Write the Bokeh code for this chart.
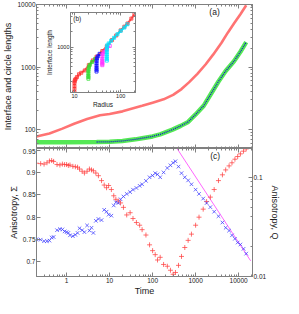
from bokeh.plotting import figure
from bokeh.layouts import column
from bokeh.models import LogAxis, Range1d, FixedTicker, PrintfTickFormatter, Label, LogScale
from bokeh.embed import file_html
from bokeh.resources import INLINE

# ---------------- data ----------------
# (a) interface length and circle length vs time
iface_t = [0.2, 0.4, 0.8, 1.5, 3, 6, 10, 20, 57, 100, 180, 300, 470, 700, 1100, 1700, 2550, 4000, 5600, 8000, 11000, 15000]
iface_len = [78, 87, 104, 124, 148, 170, 178, 196, 240, 270, 305, 360, 445, 570, 780, 1100, 1580, 2450, 3550, 5100, 7000, 9700]
circ_t = [0.2, 1, 5, 10, 20, 40, 57, 100, 150, 290, 450, 670, 1000, 1550, 2300, 3400, 5000, 7800, 11000, 15000]
circ_len = [63, 63, 63.5, 64, 66, 70, 73, 78, 84, 100, 115, 133, 175, 242, 378, 588, 865, 1240, 1760, 2500]
circ_dot_t = [5, 10, 20, 40, 57, 100, 150, 290, 450, 670, 1000, 1550, 2300, 3400, 5000, 7800, 11000, 15000]
circ_dot_len = [63.5, 64, 66, 70, 73, 78, 84, 100, 115, 133, 175, 242, 378, 588, 865, 1240, 1760, 2500]

# (b) interface length vs radius
r_red = [10, 10, 10, 10, 10.05, 10.2, 10.6, 11.3, 12.5, 14, 16.7, 20.4, 25, 30, 40, 50, 65, 80, 100, 120, 140, 170, 198]
l_red = [125, 145, 165, 190, 205, 218, 230, 250, 285, 305, 340, 433, 540, 640, 830, 1030, 1380, 1700, 2150, 2550, 2950, 3700, 4500]
r_green = [20, 20, 20, 20, 20, 20.2, 20.6, 21.5, 24, 28]
l_green = [232, 250, 270, 300, 330, 360, 400, 440, 500, 580]
r_blue = [30, 30, 30, 30, 30, 30.2, 30.6, 32, 35]
l_blue = [323, 350, 380, 420, 470, 530, 590, 650, 730]
r_magenta = [40, 40, 40, 40, 40, 40.3, 41, 44, 50, 58]
l_magenta = [433, 460, 490, 530, 580, 650, 730, 800, 900, 1050]
r_cyan = [50, 50, 50, 50, 50, 50, 50.3, 51, 55, 62, 72, 85, 100, 120, 140]
l_cyan = [534, 580, 640, 710, 790, 880, 980, 1080, 1180, 1330, 1530, 1800, 2100, 2450, 2850]

# (c) anisotropies vs time
aniso_t = [0.2, 0.25, 0.3, 0.35, 0.4, 0.45, 0.5, 0.6, 0.7, 0.8, 0.9, 1, 1.1, 1.2, 1.4, 1.6, 1.8, 2, 2.3, 2.6,
           3, 3.4, 3.8, 4.2, 4.8, 5.5, 6.5, 7.5, 8.5, 9.5, 11, 12.5, 14, 16, 18, 21, 25, 30, 35, 42,
           50, 57, 70, 85, 100, 115, 130, 150, 180, 220, 260, 300, 340, 400, 470, 560, 670, 800, 1000, 1200,
           1500, 1800, 2200, 2700, 3400, 4200, 5000, 6000, 7000, 8200, 9500, 11000, 13000, 15000]
sigma = [0.921, 0.920, 0.919, 0.922, 0.926, 0.927, 0.925, 0.918, 0.917, 0.919, 0.918, 0.918, 0.916, 0.917, 0.914, 0.913, 0.912, 0.908, 0.903, 0.899,
         0.903, 0.908, 0.906, 0.904, 0.899, 0.893, 0.882, 0.872, 0.866, 0.871, 0.862, 0.848, 0.840, 0.836, 0.832, 0.822, 0.805, 0.810, 0.797, 0.788,
         0.782, 0.772, 0.760, 0.738, 0.725, 0.716, 0.704, 0.710, 0.694, 0.690, 0.681, 0.672, 0.676, 0.692, 0.712, 0.732, 0.748, 0.762, 0.782, 0.800,
         0.818, 0.835, 0.845, 0.862, 0.882, 0.895, 0.906, 0.915, 0.922, 0.930, 0.936, 0.942, 0.948, 0.953]
q_aniso = [0.0237, 0.0235, 0.0227, 0.0227, 0.0230, 0.0247, 0.0250, 0.0293, 0.0300, 0.0298, 0.0285, 0.0280, 0.0275, 0.0260, 0.0255, 0.0263, 0.0275, 0.0306, 0.0293, 0.0280,
           0.0327, 0.0290, 0.0310, 0.0275, 0.0364, 0.0380, 0.0370, 0.0470, 0.0450, 0.0420, 0.0410, 0.0520, 0.0560, 0.0550, 0.0600, 0.0640, 0.0680, 0.0710, 0.0750, 0.0780,
           0.0820, 0.0850, 0.0920, 0.1000, 0.1040, 0.1100, 0.1070, 0.1000, 0.1120, 0.1240, 0.1320, 0.1400, 0.1450, 0.1280, 0.1100, 0.1000, 0.0930, 0.0850, 0.0750, 0.0680,
           0.0610, 0.0550, 0.0500, 0.0450, 0.0405, 0.0350, 0.0310, 0.0290, 0.0260, 0.0240, 0.0220, 0.0210, 0.0190, 0.0170]
fit_t = [370, 19000]
fit_q = [0.195, 0.0144]

# tick values
time_major = [1, 10, 100, 1000, 10000]
time_minor = [m * 10.0 ** e for e in range(-1, 5) for m in range(2, 10)]
len_major = [100, 1000, 10000]
len_minor = [m * 10.0 ** e for e in range(1, 4) for m in range(2, 10)]
sigma_ticks = [0.7, 0.75, 0.8, 0.85, 0.9, 0.95]
q_major = [0.01, 0.1]
q_minor = [m * 10.0 ** e for e in range(-2, 0) for m in range(2, 10)]
rad_major = [10, 100]
rad_minor = [m * 10.0 ** e for e in range(0, 3) for m in range(2, 10)]

FONT = "Liberation Sans"
AX = "#808080"
TXT = "#222222"


def style(ax, labels=True, tick=4, minor=2, lsize="6.5px", asize="9px"):
    ax.major_tick_in = tick
    ax.major_tick_out = 0
    ax.minor_tick_in = minor
    ax.minor_tick_out = 0
    ax.axis_line_color = AX
    ax.major_tick_line_color = AX
    ax.minor_tick_line_color = AX
    if labels:
        ax.major_label_text_font = FONT
        ax.major_label_text_font_size = lsize
        ax.major_label_text_color = TXT
        ax.major_label_standoff = 1
        ax.axis_label_text_font = FONT
        ax.axis_label_text_font_size = asize
        ax.axis_label_text_font_style = "normal"
        ax.axis_label_text_color = TXT
        ax.axis_label_standoff = 1
    else:
        ax.major_label_text_font_size = "1px"
        ax.major_label_text_alpha = 0
        ax.major_label_standoff = 0


fmt = PrintfTickFormatter(format="%g")
x_rng = Range1d(0.2, 21000)

# ---------------- top panel (a) ----------------
top = figure(width=283, height=148, x_axis_type="log", y_axis_type="log",
             x_range=x_rng, y_range=Range1d(50, 10000),
             min_border_left=32, min_border_right=28, min_border_top=4, min_border_bottom=0,
             output_backend="svg", toolbar_location=None)
top.grid.visible = False
top.outline_line_color = AX
top.xaxis.ticker = FixedTicker(ticks=time_major, minor_ticks=time_minor)
style(top.xaxis[0], labels=False)
top.yaxis.ticker = FixedTicker(ticks=len_major, minor_ticks=len_minor)
top.yaxis.formatter = fmt
top.yaxis.axis_label = "Interface and circle lengths"
style(top.yaxis[0])
ax_t = LogAxis(ticker=FixedTicker(ticks=time_major, minor_ticks=time_minor))
style(ax_t, labels=False)
top.add_layout(ax_t, "above")
ax_r = LogAxis(ticker=FixedTicker(ticks=len_major, minor_ticks=len_minor))
style(ax_r, labels=False)
top.add_layout(ax_r, "right")

top.line(iface_t, iface_len, line_color="#ff5a5a", line_width=2.6, line_alpha=0.85)
top.line(circ_t, circ_len, line_color="#55e855", line_width=4.5)
top.line(circ_dot_t, circ_dot_len, line_color="#1010d0", line_width=1.3, line_dash="1 1")
top.add_layout(Label(x=2750, y=7500, text="(a)", text_font=FONT, text_font_size="8.5px",
                     text_color=TXT, text_align="center", text_baseline="middle"))

# ---------------- bottom panel (c) ----------------
bot = figure(width=283, height=150, x_axis_type="log",
             x_range=x_rng, y_range=Range1d(0.667, 0.954),
             min_border_left=32, min_border_right=28, min_border_top=0, min_border_bottom=18,
             output_backend="svg", toolbar_location=None)
bot.extra_y_ranges = {"q": Range1d(0.01, 0.195)}
bot.extra_y_scales = {"q": LogScale()}
bot.grid.visible = False
bot.outline_line_color = AX
bot.xaxis.ticker = FixedTicker(ticks=time_major, minor_ticks=time_minor)
bot.xaxis.formatter = fmt
bot.xaxis.axis_label = "Time"
style(bot.xaxis[0])
bot.xaxis.axis_label_standoff = 0
bot.yaxis.ticker = FixedTicker(ticks=sigma_ticks)
bot.yaxis.formatter = fmt
bot.yaxis.axis_label = "Anisotropy, Σ"
style(bot.yaxis[0])
ax_q = LogAxis(y_range_name="q", ticker=FixedTicker(ticks=q_major, minor_ticks=q_minor),
               formatter=fmt, axis_label="Anisotropy, Q")
style(ax_q)
bot.add_layout(ax_q, "right")
ax_bt = LogAxis(ticker=FixedTicker(ticks=time_major, minor_ticks=time_minor))
style(ax_bt, labels=False)
bot.add_layout(ax_bt, "above")

bot.line(fit_t, fit_q, y_range_name="q", line_color="#ff66ff", line_width=1)
bot.scatter(aniso_t, sigma, marker="cross", size=5, line_color="#ff4040", line_alpha=0.75, line_width=1)
bot.scatter(aniso_t, q_aniso, y_range_name="q", marker="x", size=5, line_color="#3a3aff",
            line_alpha=0.75, line_width=1)
bot.add_layout(Label(x=2850, y=0.937, text="(c)", text_font=FONT, text_font_size="8.5px",
                     text_color=TXT, text_align="center", text_baseline="middle"))

# ---------------- inset (b) ----------------
ins = figure(width=132, height=98, x_axis_type="log", y_axis_type="log",
             x_range=Range1d(8.2, 209), y_range=Range1d(123, 4900),
             min_border_left=21, min_border_right=2, min_border_top=0, min_border_bottom=14,
             output_backend="svg", toolbar_location=None,
             styles={"position": "absolute", "left": "34px", "top": "12px"})
ins.grid.visible = False
ins.border_fill_alpha = 0
ins.background_fill_color = "white"
ins.outline_line_color = AX
ins.xaxis.ticker = FixedTicker(ticks=rad_major, minor_ticks=rad_minor)
ins.xaxis.formatter = fmt
ins.xaxis.axis_label = "Radius"
style(ins.xaxis[0], tick=3, minor=2, lsize="5.5px", asize="6.5px")
ins.xaxis.axis_label_standoff = 0
ins.yaxis.ticker = FixedTicker(ticks=[1000], minor_ticks=len_minor)
ins.yaxis.formatter = fmt
ins.yaxis.axis_label = "Interface length"
style(ins.yaxis[0], tick=3, minor=2, lsize="5.5px", asize="6.5px")
ax_it = LogAxis(ticker=FixedTicker(ticks=rad_major, minor_ticks=rad_minor))
style(ax_it, labels=False, tick=3, minor=2)
ins.add_layout(ax_it, "above")
ax_ir = LogAxis(ticker=FixedTicker(ticks=[1000], minor_ticks=len_minor))
style(ax_ir, labels=False, tick=3, minor=2)
ins.add_layout(ax_ir, "right")

for rr, ll, col in [(r_red, l_red, "#ff3030"), (r_green, l_green, "#33dd33"), (r_blue, l_blue, "#1010ff"),
                    (r_magenta, l_magenta, "#ff33ff"), (r_cyan, l_cyan, "#00e5ff")]:
    ins.line(rr, ll, line_color=col, line_width=2, line_alpha=0.8)
    ins.scatter(rr, ll, marker="square", size=3, fill_alpha=0, line_color=col, line_width=0.8)
ins.add_layout(Label(x=11.5, y=3650, text="(b)", text_font=FONT, text_font_size="6.5px",
                     text_color=TXT, text_align="center", text_baseline="middle"))

layout = column(top, bot, ins, spacing=0, styles={"position": "relative"})

open("out.html", "w").write(file_html(layout, INLINE))
